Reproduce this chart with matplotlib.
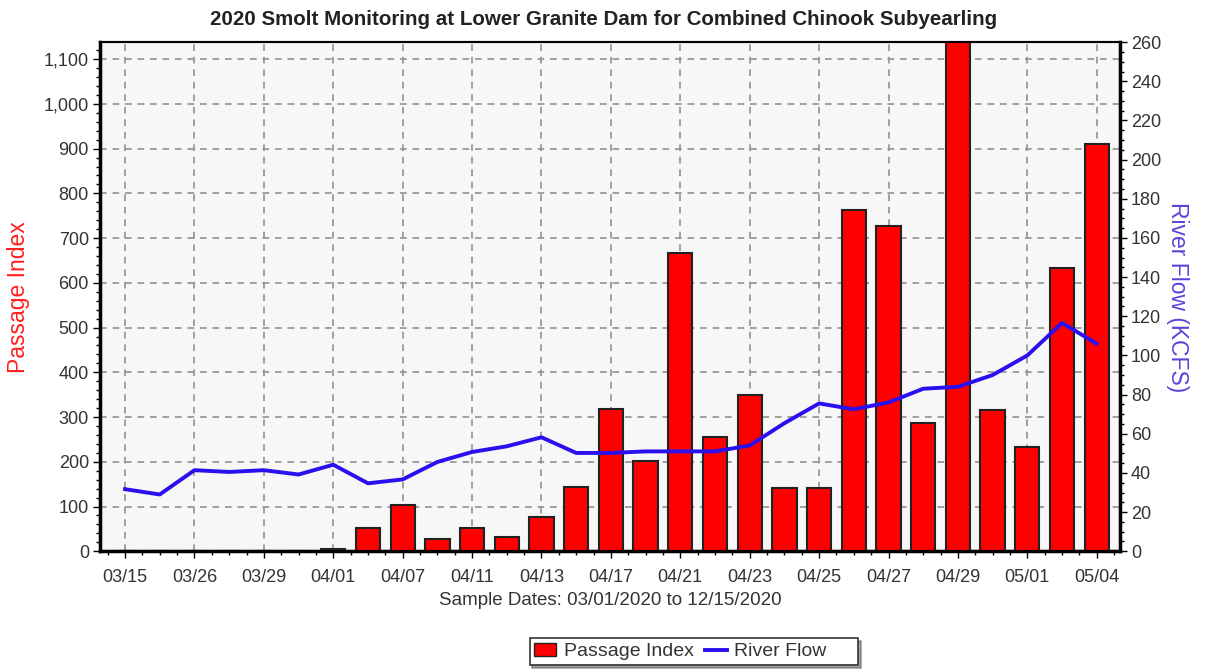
import matplotlib.pyplot as plt
import numpy as np
from matplotlib.ticker import FuncFormatter, MultipleLocator

plt.rcParams['font.family'] = ['Liberation Sans', 'DejaVu Sans']

dates = ['03/15', '03/22', '03/26', '03/28', '03/29', '03/31', '04/01', '04/04',
         '04/07', '04/09', '04/11', '04/12', '04/13', '04/15', '04/17', '04/19',
         '04/21', '04/22', '04/23', '04/24', '04/25', '04/26', '04/27', '04/28',
         '04/29', '04/30', '05/01', '05/02', '05/04']
passage = [0, 0, 0, 0, 0, 0, 5, 51, 104, 27, 51, 31, 76, 144, 318, 201,
           667, 255, 349, 141, 141, 763, 727, 287, 1180, 315, 233, 633, 910]
flow = [31.7, 29.0, 41.4, 40.5, 41.4, 39.2, 44.2, 34.7, 36.7, 45.6, 50.7, 53.6,
        58.2, 50.2, 50.2, 51.0, 51.0, 51.0, 54.0, 65.4, 75.5, 72.5, 76.0, 83.0,
        84.0, 90.0, 100.0, 116.6, 106.0]

x = np.arange(len(dates))

fig = plt.figure(figsize=(12.07, 6.69), dpi=100)
ax = fig.add_axes([0.0829, 0.176, 0.845, 0.761])
ax.set_facecolor('#f7f7f7')
ax2 = ax.twinx()

ax.bar(x, passage, width=0.7, color='#ff0000', edgecolor='#222222', linewidth=1.5, zorder=3)
ax2.plot(x, flow, color='#2a10ee', linewidth=2.8, zorder=4)

ax.set_xlim(-0.72, 28.67)
ax.set_ylim(0, 1138)
ax2.set_ylim(0, 260)

ax.set_xticks(x[::2])
ax.set_xticklabels(dates[::2])
ax.set_xticks(np.arange(-0.5, 28.6, 0.5), minor=True)
ax.yaxis.set_major_locator(MultipleLocator(100))
ax.yaxis.set_minor_locator(MultipleLocator(20))
ax.yaxis.set_major_formatter(FuncFormatter(lambda v, p: f'{int(v):,}'))
ax2.yaxis.set_major_locator(MultipleLocator(20))
ax2.yaxis.set_minor_locator(MultipleLocator(5))

ax.grid(True, which='major', color='#929292', linestyle=(0, (4, 3.5)), linewidth=1.2, zorder=0)
ax.set_axisbelow(True)

for a in (ax, ax2):
    a.tick_params(axis='both', which='major', labelsize=13, labelcolor='#333333',
                  length=5, width=1, direction='out', pad=3)
    a.tick_params(axis='both', which='minor', length=3, width=1)
    for s in a.spines.values():
        s.set_linewidth(1.5)
ax.spines['left'].set_linewidth(2.5)
ax.spines['bottom'].set_linewidth(2.5)
ax2.spines['right'].set_linewidth(2.5)
ax.tick_params(axis='x', which='major', pad=8)

ax.set_ylabel('Passage Index', color='#ff2020', fontsize=16.5, labelpad=10)
ax2.set_ylabel('River Flow (KCFS)', color='#6040d8', fontsize=16.5, rotation=270, labelpad=20)
ax.set_xlabel('Sample Dates: 03/01/2020 to 12/15/2020', fontsize=13.5, color='#333333', labelpad=4)
fig.text(0.5, 0.962, '2020 Smolt Monitoring at Lower Granite Dam for Combined Chinook Subyearling',
         ha='center', fontsize=14.8, fontweight='bold', color='#222222')

bar_h = plt.Rectangle((0, 0), 1, 1, facecolor='#ff0000', edgecolor='#222222')
line_h = plt.Line2D([], [], color='#2a10ee', linewidth=2.8)
leg = fig.legend([bar_h, line_h], ['Passage Index', 'River Flow     '], loc='center',
                 bbox_to_anchor=(0.575, 0.026), ncol=2, fontsize=14, frameon=True,
                 fancybox=False, shadow=True, edgecolor='#333333', handlelength=1.1,
                 handletextpad=0.4, columnspacing=0.6, borderpad=0.25)
leg.get_frame().set_linewidth(1.2)
for t in leg.get_texts():
    t.set_color('#333333')

fig.savefig('out.png', dpi=100)
